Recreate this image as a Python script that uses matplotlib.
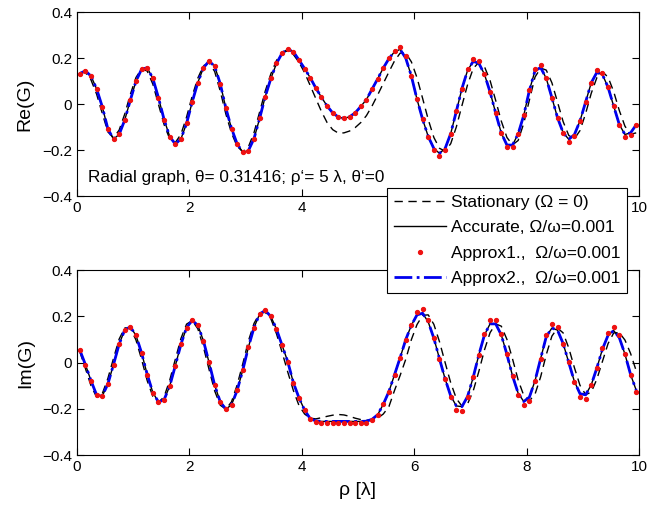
import numpy as np
import matplotlib
matplotlib.use("Agg")
import matplotlib.pyplot as plt
from matplotlib.lines import Line2D

plt.rcParams['font.family'] = ['Liberation Sans', 'DejaVu Sans']

# radial samples (lambda units)
rho = np.arange(0.05, 10.0, 0.1)

# Re(G) curves
re_stationary = [
    0.137, 0.138, 0.105, 0.043, -0.040, -0.121, -0.146, -0.113, -0.043, 0.043,
    0.116, 0.154, 0.144, 0.087, -0.001, -0.089, -0.151, -0.167, -0.131, -0.056,
    0.035, 0.113, 0.167, 0.180, 0.142, 0.056, -0.044, -0.126, -0.184, -0.207,
    -0.186, -0.124, -0.034, 0.057, 0.132, 0.190, 0.226, 0.231, 0.216, 0.182,
    0.137, 0.081, 0.024, -0.032, -0.080, -0.111, -0.126, -0.125, -0.117, -0.102,
    -0.080, -0.050, -0.008, 0.040, 0.090, 0.140, 0.188, 0.222, 0.222, 0.184,
    0.115, 0.025, -0.067, -0.145, -0.192, -0.205, -0.172, -0.099, -0.006, 0.085,
    0.155, 0.182, 0.163, 0.103, 0.016, -0.074, -0.145, -0.177, -0.158, -0.083,
    0.018, 0.118, 0.157, 0.148, 0.093, 0.009, -0.076, -0.136, -0.151, -0.115,
    -0.041, 0.047, 0.115, 0.141, 0.117, 0.054, -0.028, -0.096, -0.131, -0.125,
]
re_accurate = [
    0.133, 0.145, 0.122, 0.066, -0.011, -0.108, -0.152, -0.132, -0.069, 0.018,
    0.100, 0.152, 0.158, 0.112, 0.028, -0.067, -0.141, -0.174, -0.151, -0.084,
    0.009, 0.094, 0.158, 0.187, 0.165, 0.088, -0.018, -0.106, -0.173, -0.209,
    -0.202, -0.150, -0.062, 0.033, 0.112, 0.177, 0.222, 0.239, 0.228, 0.192,
    0.155, 0.115, 0.070, 0.030, -0.008, -0.038, -0.056, -0.062, -0.055, -0.038,
    -0.010, 0.020, 0.065, 0.110, 0.157, 0.198, 0.228, 0.238, 0.200, 0.122,
    0.021, -0.066, -0.141, -0.193, -0.214, -0.193, -0.128, -0.031, 0.068, 0.147,
    0.186, 0.178, 0.130, 0.053, -0.039, -0.126, -0.178, -0.178, -0.129, -0.048,
    0.060, 0.146, 0.159, 0.112, 0.028, -0.059, -0.124, -0.153, -0.133, -0.073,
    0.009, 0.093, 0.138, 0.128, 0.073, -0.009, -0.089, -0.132, -0.125, -0.090,
]
re_approx1 = [
    0.133, 0.145, 0.122, 0.066, -0.011, -0.108, -0.152, -0.132, -0.069, 0.018,
    0.100, 0.152, 0.158, 0.112, 0.028, -0.067, -0.141, -0.174, -0.151, -0.084,
    0.009, 0.094, 0.158, 0.187, 0.165, 0.088, -0.018, -0.106, -0.173, -0.209,
    -0.202, -0.150, -0.062, 0.033, 0.112, 0.177, 0.222, 0.239, 0.228, 0.192,
    0.155, 0.115, 0.070, 0.030, -0.008, -0.038, -0.056, -0.062, -0.055, -0.038,
    -0.010, 0.020, 0.065, 0.110, 0.157, 0.200, 0.232, 0.247, 0.208, 0.122,
    0.021, -0.066, -0.141, -0.200, -0.225, -0.200, -0.128, -0.031, 0.068, 0.153,
    0.197, 0.186, 0.130, 0.053, -0.039, -0.126, -0.186, -0.188, -0.129, -0.048,
    0.060, 0.153, 0.170, 0.112, 0.028, -0.059, -0.124, -0.163, -0.140, -0.073,
    0.009, 0.093, 0.150, 0.135, 0.073, -0.009, -0.089, -0.143, -0.135, -0.090,
]
re_approx2 = re_accurate  # sits on the accurate curve at this scale

# Im(G) curves
im_stationary = [
    0.048, -0.025, -0.100, -0.149, -0.134, -0.068, 0.019, 0.102, 0.151, 0.149,
    0.098, 0.014, -0.078, -0.146, -0.172, -0.147, -0.076, 0.015, 0.105, 0.167,
    0.182, 0.147, 0.068, -0.029, -0.122, -0.184, -0.201, -0.169, -0.096, -0.005,
    0.094, 0.170, 0.214, 0.218, 0.190, 0.125, 0.045, -0.040, -0.120, -0.185,
    -0.222, -0.240, -0.243, -0.238, -0.232, -0.227, -0.224, -0.226, -0.232, -0.240,
    -0.246, -0.249, -0.247, -0.240, -0.222, -0.190, -0.120, -0.055, 0.015, 0.100,
    0.165, 0.205, 0.207, 0.166, 0.091, 0.001, -0.087, -0.155, -0.188, -0.178,
    -0.122, -0.038, 0.055, 0.130, 0.168, 0.158, 0.101, 0.016, -0.075, -0.142,
    -0.165, -0.136, -0.061, 0.035, 0.115, 0.150, 0.129, 0.064, -0.021, -0.098,
    -0.138, -0.128, -0.071, 0.006, 0.083, 0.129, 0.130, 0.098, 0.040, -0.035,
]
im_accurate = [
    0.055, -0.008, -0.078, -0.140, -0.144, -0.092, -0.008, 0.080, 0.142, 0.155,
    0.118, 0.042, -0.051, -0.129, -0.170, -0.160, -0.101, -0.013, 0.080, 0.152,
    0.183, 0.162, 0.095, 0.001, -0.097, -0.170, -0.201, -0.182, -0.120, -0.032,
    0.067, 0.152, 0.211, 0.226, 0.200, 0.145, 0.075, 0.005, -0.086, -0.152,
    -0.205, -0.242, -0.252, -0.254, -0.254, -0.254, -0.254, -0.254, -0.254, -0.254,
    -0.254, -0.253, -0.245, -0.225, -0.180, -0.125, -0.052, 0.022, 0.100, 0.162,
    0.207, 0.214, 0.176, 0.106, 0.017, -0.070, -0.144, -0.187, -0.190, -0.146,
    -0.063, 0.034, 0.120, 0.168, 0.168, 0.120, 0.036, -0.057, -0.132, -0.168,
    -0.149, -0.078, 0.018, 0.113, 0.150, 0.141, 0.083, 0.001, -0.081, -0.134,
    -0.139, -0.096, -0.023, 0.059, 0.119, 0.139, 0.108, 0.037, -0.051, -0.119,
]
im_approx1 = [
    0.055, -0.008, -0.078, -0.140, -0.144, -0.092, -0.008, 0.080, 0.142, 0.155,
    0.118, 0.042, -0.051, -0.129, -0.170, -0.160, -0.101, -0.013, 0.080, 0.152,
    0.183, 0.162, 0.095, 0.001, -0.097, -0.170, -0.201, -0.182, -0.120, -0.032,
    0.067, 0.152, 0.211, 0.226, 0.200, 0.145, 0.075, 0.005, -0.086, -0.152,
    -0.205, -0.244, -0.256, -0.261, -0.261, -0.261, -0.261, -0.261, -0.261, -0.261,
    -0.261, -0.259, -0.248, -0.228, -0.180, -0.125, -0.052, 0.022, 0.100, 0.165,
    0.218, 0.232, 0.186, 0.106, 0.017, -0.070, -0.150, -0.205, -0.210, -0.150,
    -0.063, 0.034, 0.125, 0.185, 0.185, 0.125, 0.036, -0.057, -0.140, -0.185,
    -0.165, -0.078, 0.018, 0.118, 0.168, 0.155, 0.083, 0.001, -0.085, -0.150,
    -0.155, -0.096, -0.023, 0.062, 0.130, 0.155, 0.118, 0.037, -0.051, -0.125,
]
im_approx2 = im_accurate

labels = ['Stationary (\u03a9 = 0)', 'Accurate, \u03a9/\u03c9=0.001',
          'Approx1.,  \u03a9/\u03c9=0.001', 'Approx2.,  \u03a9/\u03c9=0.001']

fig = plt.figure(figsize=(6.49, 5.08), dpi=100)
ax1 = fig.add_axes([0.1186, 0.614, 0.866, 0.362])
ax2 = fig.add_axes([0.1186, 0.104, 0.866, 0.364])


def draw(ax, stat, acc, ap1, ap2, ylabel):
    ax.plot(rho, stat, color='k', ls=(0, (6, 4)), lw=1.0)
    ax.plot(rho, acc, color='k', ls='-', lw=1.0)
    ax.plot(rho, ap2, color='#0000ee', ls='-.', lw=2.0)
    ax.plot(rho, ap1, ls='none', marker='o', ms=2.8, color='#ee1111', mec='#ee1111')
    ax.set_xlim(0, 10)
    ax.set_ylim(-0.4, 0.4)
    ax.set_xticks([0, 2, 4, 6, 8, 10])
    ax.set_yticks([-0.4, -0.2, 0, 0.2, 0.4])
    ax.set_yticklabels(['\u22120.4', '\u22120.2', '0', '0.2', '0.4'])
    ax.tick_params(direction='in', top=True, right=True, length=5, width=0.8, labelsize=11)
    ax.set_ylabel(ylabel, fontsize=14, labelpad=6)
    for s in ax.spines.values():
        s.set_linewidth(0.8)


draw(ax1, re_stationary, re_accurate, re_approx1, re_approx2, 'Re(G)')
draw(ax2, im_stationary, im_accurate, im_approx1, im_approx2, 'Im(G)')
# 6 and 8 of the upper panel sit behind the legend
ax1.set_xticklabels(['0', '2', '4', '', '', '10'])
ax2.set_xlabel('\u03c1 [\u03bb]', fontsize=14, labelpad=6)

ax1.text(0.2, -0.32, 'Radial graph, \u03b8= 0.31416; \u03c1\u2018= 5 \u03bb, \u03b8\u2018=0',
         fontsize=12.3, va='center', ha='left')

handles = [
    Line2D([], [], color='k', ls=(0, (6, 4)), lw=1.0),
    Line2D([], [], color='k', ls='-', lw=1.0),
    Line2D([], [], ls='none', marker='o', ms=2.8, color='#ee1111'),
    Line2D([], [], color='#0000ee', ls='-.', lw=2.0),
]
leg = fig.legend(handles, labels, loc='upper left', bbox_to_anchor=(387 / 649, 1 - 188 / 508),
                 fontsize=12.5, frameon=True, fancybox=False, framealpha=1,
                 edgecolor='k', borderaxespad=0, handlelength=3.0, labelspacing=0.6,
                 borderpad=0.38, handletextpad=0.3)
leg.get_frame().set_linewidth(0.8)

fig.savefig('out.png', dpi=100)
